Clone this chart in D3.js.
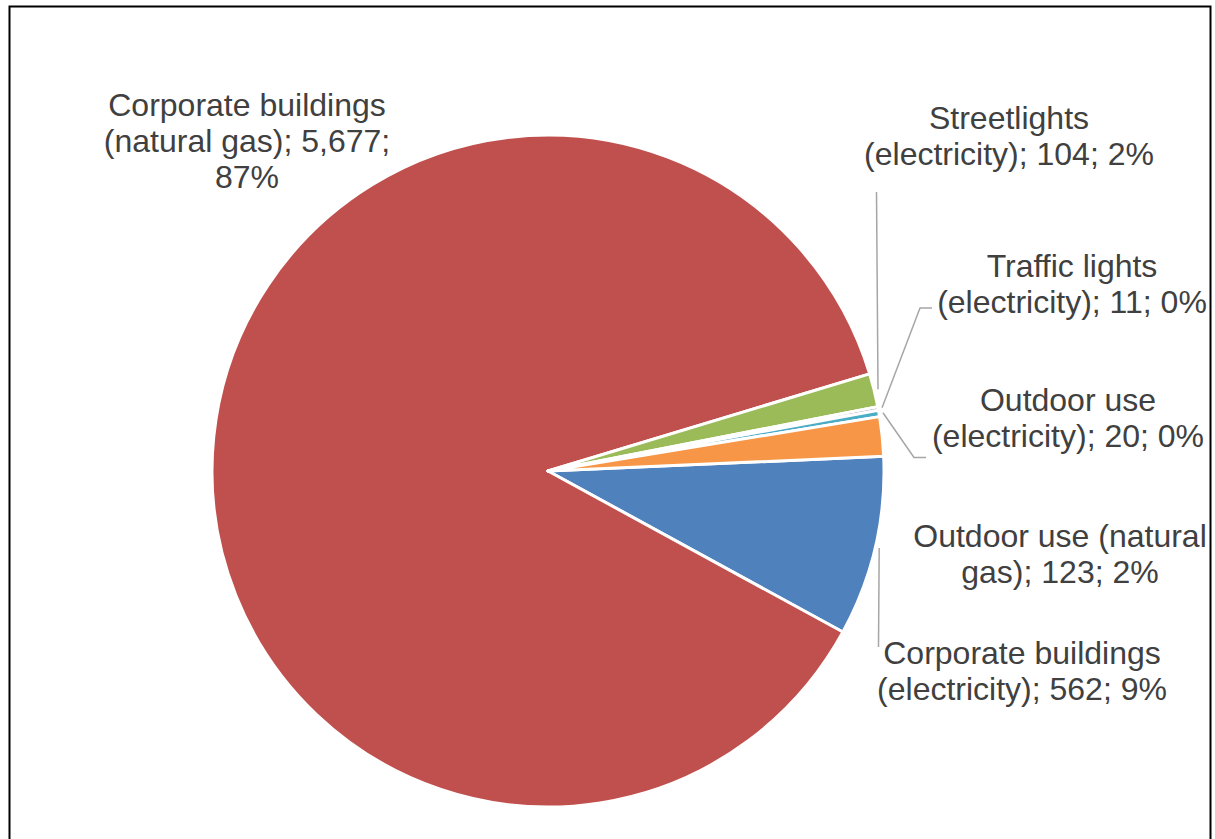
<!DOCTYPE html>
<html>
<head>
<meta charset="utf-8">
<script src="https://cdn.jsdelivr.net/npm/d3@7"></script>
<style>
  html, body { margin: 0; padding: 0; background: #ffffff; }
  svg { display: block; }
</style>
</head>
<body>
<svg id="chart" width="1215" height="839"></svg>
<script>
// Corporate energy emissions by source
const categories = [
  "Corporate buildings (electricity)",
  "Corporate buildings (natural gas)",
  "Streetlights (electricity)",
  "Traffic lights (electricity)",
  "Outdoor use (electricity)",
  "Outdoor use (natural gas)"
];
const values = [562, 5677, 104, 11, 20, 123];
const percentLabels = ["9%", "87%", "2%", "0%", "0%", "2%"];

// Label text, split into lines as laid out on the chart
const labelLines = [
  ["Corporate buildings", "(electricity); 562; 9%"],
  ["Corporate buildings", "(natural gas); 5,677;", "87%"],
  ["Streetlights", "(electricity); 104; 2%"],
  ["Traffic lights", "(electricity); 11; 0%"],
  ["Outdoor use", "(electricity); 20; 0%"],
  ["Outdoor use (natural", "gas); 123; 2%"]
];

const colors = ["#4F81BD", "#C0504D", "#9BBB59", "#8064A2", "#4BACC6", "#F79646"];

// Layout: label block centre x and first baseline; leader line path (after leaving the slice)
const labelX = [1022, 247, 1009, 1072, 1068, 1060];
const labelY = [664, 116, 129, 277, 411, 547];
const leaderPts = [
  [[878.5, 647]],
  null,
  [[876.5, 192]],
  [[920, 308], [932, 308]],
  [[914, 457.5], [926, 457.5]],
  null
];

const svg = d3.select("#chart");

// Outer frame
svg.append("rect")
  .attr("x", 9.5).attr("y", 6.5)
  .attr("width", 1201).attr("height", 860)
  .attr("fill", "none")
  .attr("stroke", "#000")
  .attr("stroke-width", 2);

const cx = 548, cy = 471, radius = 336;
const startDeg = 87.5;
const toRad = d => d * Math.PI / 180;

const pie = d3.pie()
  .sort(null)
  .value(d => d)
  .startAngle(toRad(startDeg))
  .endAngle(toRad(startDeg + 360));

const arcs = pie(values);
const arc = d3.arc().innerRadius(0).outerRadius(radius);

const g = svg.append("g").attr("transform", `translate(${cx},${cy})`);

g.selectAll("path.slice")
  .data(arcs)
  .join("path")
  .attr("class", "slice")
  .attr("d", arc)
  .attr("fill", (d, i) => colors[i])
  .attr("stroke", "#ffffff")
  .attr("stroke-width", 3)
  .attr("stroke-linejoin", "round");

// Leader lines from each slice's outer edge
const leaderArc = d3.arc().innerRadius(radius + 4).outerRadius(radius + 4);
const line = d3.line();
arcs.forEach((d, i) => {
  if (!leaderPts[i]) return;
  const [px, py] = leaderArc.centroid(d);
  const pts = [[cx + px, cy + py]].concat(leaderPts[i]);
  svg.append("path")
    .attr("d", line(pts))
    .attr("fill", "none")
    .attr("stroke", "#A6A6A6")
    .attr("stroke-width", 1.5);
});

// Data labels
const fontSize = 32, lineH = 36;
labelLines.forEach((lines, i) => {
  const t = svg.append("text")
    .attr("x", labelX[i])
    .attr("y", labelY[i])
    .attr("text-anchor", "middle")
    .attr("fill", "#404040")
    .style("font-family", "Arial, 'Liberation Sans', sans-serif")
    .style("font-size", fontSize + "px");
  lines.forEach((s, k) => {
    t.append("tspan")
      .attr("x", labelX[i])
      .attr("y", labelY[i] + k * lineH)
      .text(s);
  });
});
</script>
</body>
</html>
